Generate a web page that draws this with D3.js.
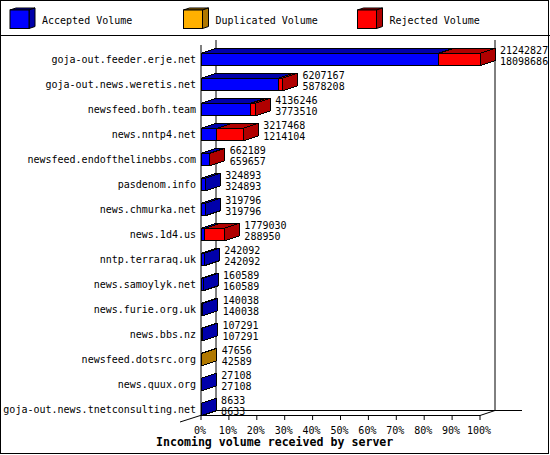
<!DOCTYPE html>
<html>
<head>
<meta charset="utf-8">
<script src="https://cdn.jsdelivr.net/npm/d3@7"></script>
<style>
  body { margin: 0; background: #fff; }
  text { font-family: "DejaVu Sans Mono", monospace; font-size: 10px; fill: #000; }
</style>
</head>
<body>
<svg id="chart" width="550" height="455"></svg>
<script>
// data
const hosts = [
  "goja-out.feeder.erje.net",
  "goja-out.news.weretis.net",
  "newsfeed.bofh.team",
  "news.nntp4.net",
  "newsfeed.endofthelinebbs.com",
  "pasdenom.info",
  "news.chmurka.net",
  "news.1d4.us",
  "nntp.terraraq.uk",
  "news.samoylyk.net",
  "news.furie.org.uk",
  "news.bbs.nz",
  "newsfeed.dotsrc.org",
  "news.quux.org",
  "goja-out.news.tnetconsulting.net"
];
const accepted   = [18098686, 5878208, 3773510, 1214104, 659657, 324893, 319796, 288950, 242092, 160589, 140038, 107291, 42589, 27108, 8633];
const duplicated = [0, 0, 0, 0, 0, 0, 0, 0, 0, 0, 0, 0, 5067, 0, 0];
const rejected   = [3144141, 328959, 362736, 2003364, 2532, 0, 0, 1490080, 0, 0, 0, 0, 0, 0, 0];
const tickValues = [0, 0.1, 0.2, 0.3, 0.4, 0.5, 0.6, 0.7, 0.8, 0.9, 1];
const seriesNames = ["Accepted Volume", "Duplicated Volume", "Rejected Volume"];
const frontColors = ["#0000ff", "#ffb000", "#ff0000"];
const darkColors  = ["#0000aa", "#b07800", "#b00000"];
const axisTitle = "Incoming volume received by server";

const svg = d3.select("#chart");
const W = 550, H = 455;
const DX = 15, DY = -5;   // depth of the 3d boxes

const totals = hosts.map((h, i) => accepted[i] + duplicated[i] + rejected[i]);
const maxTotal = d3.max(totals);

const x = d3.scaleLinear().domain([0, 1]).range([201, 480]);
const y = d3.scaleBand().domain(hosts).range([40.8, 415.8]);
const bw = y.bandwidth();

// draws a box with front, top and side faces
function box(g, x0, x1, yt, yb, front, dark, dx, dy) {
  g.append("path")
    .attr("d", `M${x0},${yt}L${x0 + dx},${yt + dy}L${x1 + dx},${yt + dy}L${x1},${yt}Z`)
    .attr("fill", dark).attr("stroke", "#000");
  g.append("path")
    .attr("d", `M${x1},${yt}L${x1 + dx},${yt + dy}L${x1 + dx},${yb + dy}L${x1},${yb}Z`)
    .attr("fill", dark).attr("stroke", "#000");
  g.append("rect")
    .attr("x", x0).attr("y", yt).attr("width", x1 - x0).attr("height", yb - yt)
    .attr("fill", front).attr("stroke", "#000");
}

// frame and legend
svg.append("rect").attr("x", 0.5).attr("y", 0.5).attr("width", W - 2).attr("height", H - 2)
  .attr("fill", "#fff").attr("stroke", "#000");
svg.append("line").attr("x1", 0).attr("x2", W).attr("y1", 35.5).attr("y2", 35.5).attr("stroke", "#000");

const legendX = [10, 183.5, 357.5];
const legend = svg.append("g");
seriesNames.forEach((name, i) => {
  box(legend, legendX[i], legendX[i] + 19, 10, 28.5, frontColors[i], darkColors[i], 6, -2);
  legend.append("text").attr("x", legendX[i] + 32).attr("y", 20).attr("dy", "0.35em").text(name);
});

// walls and floor
const walls = svg.append("g").attr("stroke", "#000");
walls.append("line").attr("x1", x(0) + DX).attr("x2", x(0) + DX).attr("y1", 40).attr("y2", 410.5);
walls.append("line").attr("x1", x(1) + DX).attr("x2", x(1) + DX).attr("y1", 40).attr("y2", 410.5);
walls.append("line").attr("x1", x(0)).attr("x2", x(0)).attr("y1", 45).attr("y2", 415.5);
walls.append("line").attr("x1", x(0) + DX).attr("x2", 522).attr("y1", 410.5).attr("y2", 410.5);
walls.append("line").attr("x1", x(0)).attr("x2", x(1)).attr("y1", 415.5).attr("y2", 415.5);
walls.append("line").attr("x1", x(1)).attr("x2", x(1) + DX).attr("y1", 415.5).attr("y2", 410.5);
walls.append("line").attr("x1", x(0) + DX).attr("x2", 180).attr("y1", 410.5).attr("y2", 422);

// ticks along the floor
const axis = svg.append("g");
axis.selectAll("line.tick").data(tickValues).join("line")
  .attr("x1", d => x(d)).attr("x2", d => x(d)).attr("y1", 415.5).attr("y2", 420)
  .attr("stroke", "#000");
axis.selectAll("text.tick").data(tickValues).join("text")
  .attr("x", d => x(d) - 1).attr("y", 430).attr("dy", "0.35em")
  .attr("text-anchor", "middle").text(d3.format(".0%"));
svg.append("text").attr("x", 156).attr("y", 442).attr("dy", "0.35em")
  .style("font-size", "11.6px").style("font-weight", "bold").text(axisTitle);

// bars
const bars = svg.append("g").attr("shape-rendering", "crispEdges");
hosts.forEach((h, i) => {
  const yt = y(h) + bw / 2, yb = y(h) + bw;
  const parts = [accepted[i], duplicated[i], rejected[i]];
  let acc = 0;
  parts.forEach((v, k) => {
    if (v <= 0) return;
    const x0 = x(acc / maxTotal);
    acc += v;
    const x1 = x(acc / maxTotal);
    box(bars, x0, x1, yt, yb, frontColors[k], darkColors[k], DX, DY);
  });
  const lx = x(totals[i] / maxTotal) + DX + 5;
  svg.append("text").attr("x", lx).attr("y", yt - 2.6).attr("dy", "0.35em").text(totals[i]);
  svg.append("text").attr("x", lx).attr("y", yt + 8.4).attr("dy", "0.35em").text(accepted[i]);
  svg.append("text").attr("x", 196).attr("y", (yt + yb) / 2).attr("dy", "0.35em")
    .attr("text-anchor", "end").text(h);
});
</script>
</body>
</html>
